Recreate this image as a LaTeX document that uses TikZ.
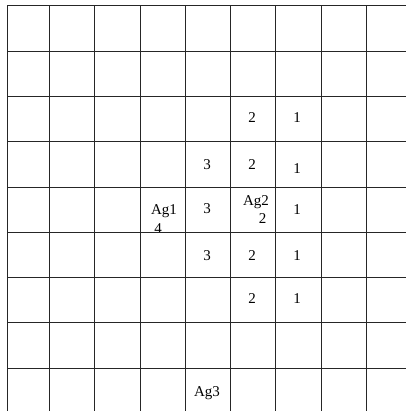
\documentclass[tikz,border=0pt]{standalone}
\usepackage{fontspec}
\setmainfont{Liberation Serif}
\begin{document}
\begin{tikzpicture}[x=1pt,y=-1pt,
  gridline/.style={line width=0.8pt,black!85},
  lbl/.style={inner sep=0pt,font=\fontsize{15}{17}\selectfont},
  blbl/.style={lbl,anchor=base}]
\useasboundingbox (0,0) rectangle (406,411);
% row 3
\node[lbl] (r3a) at (252,118) {2};
\node[lbl] (r3b) at (297,118) {1};
% row 4
\node[lbl] (r4a) at (207,165) {3};
\node[lbl] (r4b) at (252,165) {2};
\node[lbl] (r4c) at (297,169) {1};
% row 5
\node[blbl] (ag1) at (164,214.3) {Ag1};
\node[blbl] (ag1n) at (158,233) {4};
\node[lbl] (r5a) at (207,209) {3};
\node[blbl] (ag2) at (256,205.3) {Ag2};
\node[blbl] (ag2n) at (262.5,223) {2};
\node[lbl] (r5c) at (297,210) {1};
% row 6
\node[lbl] (r6a) at (207,256) {3};
\node[lbl] (r6b) at (252,256) {2};
\node[lbl] (r6c) at (297,256) {1};
% row 7
\node[lbl] (r7a) at (252,299) {2};
\node[lbl] (r7b) at (297,299) {1};
% row 9
\node[blbl] (ag3) at (207,396) {Ag3};
% grid
\foreach \x in {7.3,49.3,94.3,140,185,230.3,275.7,321,366.7}
  \draw[gridline] (\x,5.7) -- (\x,411);
\foreach \y in {5.7,51,96.7,141.7,187,232.3,277.3,322.7,368.3}
  \draw[gridline] (7.3,\y) -- (406,\y);
\end{tikzpicture}
\end{document}
